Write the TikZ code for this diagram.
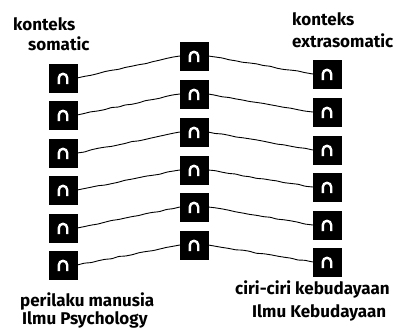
\documentclass[tikz,border=0pt]{standalone}
\usepackage{fontspec}
\setmainfont{Fira Sans}
\usetikzlibrary{decorations.pathmorphing}
\begin{document}
\begin{tikzpicture}[x=1pt,y=-1pt,
  box/.style={fill=black,draw=black,minimum size=28pt,inner sep=0pt},
  conn/.style={line width=0.9pt,decorate,decoration={random steps,segment length=7pt,amplitude=0.5pt},rounded corners=1pt},
  lbl/.style={anchor=base west,inner sep=0pt,font=\fontsize{17}{19}\selectfont\bfseries}]
\useasboundingbox (0,0) rectangle (409,333);
\pgfmathsetseed{7}
\foreach \i/\ly/\my/\ry in {1/78/56/74,2/115/94/112,3/153/132/150,4/190/170/187,5/228/207/225,6/265/245/262}{
  \node[box] (L\i) at (63,\ly) {};
  \node[box] (M\i) at (194,\my) {};
  \node[box] (R\i) at (327,\ry) {};
  \foreach \n in {L\i,M\i,R\i}{
    \draw[white,line width=2.4pt] ([shift={(-4.2,6)}]\n.center) -- ([shift={(-4.2,0)}]\n.center) arc (180:360:4.2) -- ++(0,6);
  }
  \draw[conn] (L\i.east) -- (M\i.west);
  \draw[conn] (M\i.east) -- (R\i.west);
}
\node[lbl] (t1) at (13,30) {konteks};
\node[lbl] (t2) at (28,50) {somatic};
\node[lbl] (t3) at (292,25) {konteks};
\node[lbl] (t4) at (292,47) {extrasomatic};
\node[lbl] (t5) at (20,306) {perilaku manusia};
\node[lbl] (t6) at (22,324) {Ilmu Psychology};
\node[lbl] (t7) at (235,294) {ciri-ciri kebudayaan};
\node[lbl] (t8) at (252,317) {Ilmu Kebudayaan};
\end{tikzpicture}
\end{document}
